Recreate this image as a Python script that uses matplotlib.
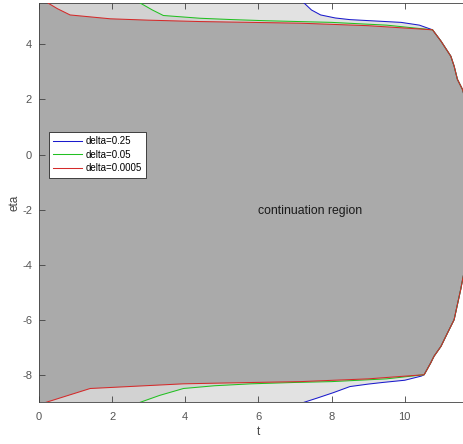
#!/usr/bin/env python3
# -*- coding: UTF-8 -*-

import numpy as np
from matplotlib import pyplot as plt

# boundary of the stopping region for each delta (upper part, lower part)
blue_top_t = [7.25, 7.45, 7.7, 8.1, 8.5, 9.2, 9.9, 10.4, 10.76]
blue_top_eta = [5.5, 5.25, 5.07, 4.96, 4.9, 4.85, 4.8, 4.7, 4.53]
blue_bot_t = [7.25, 7.6, 8.05, 8.5, 9.0, 9.4, 10.0, 10.45, 10.53]
blue_bot_eta = [-9.0, -8.85, -8.65, -8.43, -8.34, -8.28, -8.2, -8.05, -8.0]

green_top_t = [2.77, 3.1, 3.4, 4.4, 5.3, 6.2, 8.0, 9.5, 10.76]
green_top_eta = [5.5, 5.25, 5.05, 4.95, 4.9, 4.86, 4.8, 4.7, 4.53]
green_bot_t = [2.77, 3.3, 3.95, 4.8, 5.8, 7.0, 8.0, 9.5, 10.53]
green_bot_eta = [-9.0, -8.75, -8.5, -8.4, -8.33, -8.28, -8.25, -8.15, -8.0]

red_top_t = [0.25, 0.5, 0.85, 1.95, 3.0, 4.4, 5.8, 7.15, 9.0, 10.76]
red_top_eta = [5.5, 5.3, 5.07, 4.93, 4.88, 4.83, 4.8, 4.77, 4.68, 4.53]
red_bot_t = [0.2, 0.8, 1.4, 2.6, 3.95, 5.5, 7.15, 9.0, 10.53]
red_bot_eta = [-9.0, -8.75, -8.5, -8.42, -8.33, -8.29, -8.25, -8.15, -8.0]

# right boundary shared by all deltas
right_t = [10.76, 10.99, 11.26, 11.35, 11.44, 11.58, 11.75, 11.88, 11.92,
           11.88, 11.75, 11.6, 11.53, 11.35, 11.17, 10.99, 10.8, 10.71, 10.53]
right_eta = [4.53, 4.12, 3.57, 3.21, 2.73, 2.36, 1.5, 0.3, -1.0,
             -2.3, -3.5, -4.42, -4.9, -6.0, -6.48, -6.97, -7.33, -7.57, -8.0]

deltas = ['delta=0.25', 'delta=0.05', 'delta=0.0005']
line_colors = ['#1a1acc', '#22c022', '#d42a2a']
fill_colors = ['#e2e2e2', '#d2d2d2', '#aaaaaa']

T_MIN, T_MAX = 0, 12
ETA_MIN, ETA_MAX = -9, 5.5


def boundary(top_t, top_eta, bot_t, bot_eta):
    t = np.concatenate([top_t, right_t[1:-1], bot_t[::-1]])
    eta = np.concatenate([top_eta, right_eta[1:-1], bot_eta[::-1]])
    return t, eta


plt.rcParams['font.family'] = ['Liberation Sans', 'DejaVu Sans']
plt.rcParams['axes.unicode_minus'] = False
fig = plt.figure(figsize=(4.63, 4.44), dpi=100)
ax = fig.add_axes([0.0842, 0.094, 0.948, 0.899])

curves = [
    boundary(blue_top_t, blue_top_eta, blue_bot_t, blue_bot_eta),
    boundary(green_top_t, green_top_eta, green_bot_t, green_bot_eta),
    boundary(red_top_t, red_top_eta, red_bot_t, red_bot_eta),
]

for (t, eta), fc in zip(curves, fill_colors):
    poly_t = np.concatenate([[T_MIN], t, [T_MIN]])
    poly_eta = np.concatenate([[ETA_MAX], eta, [ETA_MIN]])
    ax.fill(poly_t, poly_eta, color=fc, lw=0, zorder=1)

for (t, eta), lc, name in zip(curves, line_colors, deltas):
    ax.plot(t, eta, color=lc, lw=0.75, label=name, zorder=3)

ax.text(7.42, -2.05, 'continuation region', fontsize=8.8, ha='center',
        va='center', color='#1a1a1a')

ax.set_xlim(T_MIN, T_MAX)
ax.set_ylim(ETA_MIN, ETA_MAX)
ax.set_xticks(range(0, 12, 2))
ax.set_yticks(range(-8, 5, 2))
ax.tick_params(direction='in', top=True, right=True, labelsize=8,
               labelcolor='#555555', colors='#404040', length=4, width=0.6)
ax.tick_params(axis='x', pad=7)
ax.tick_params(axis='y', pad=5)
for s in ax.spines.values():
    s.set_color('#404040')
    s.set_linewidth(0.6)
ax.set_xlabel('t', fontsize=8.5, color='#444444', labelpad=3)
ax.set_ylabel('eta', fontsize=8.5, color='#444444', labelpad=1)

leg = ax.legend(loc='upper left', bbox_to_anchor=(0.023, 0.677),
                borderaxespad=0, fontsize=7, fancybox=False,
                framealpha=1, edgecolor='#262626', handlelength=2.9,
                handletextpad=0.4, borderpad=0.45, labelspacing=0.35)
leg.get_frame().set_linewidth(0.6)

fig.savefig('out.png', dpi=100)
